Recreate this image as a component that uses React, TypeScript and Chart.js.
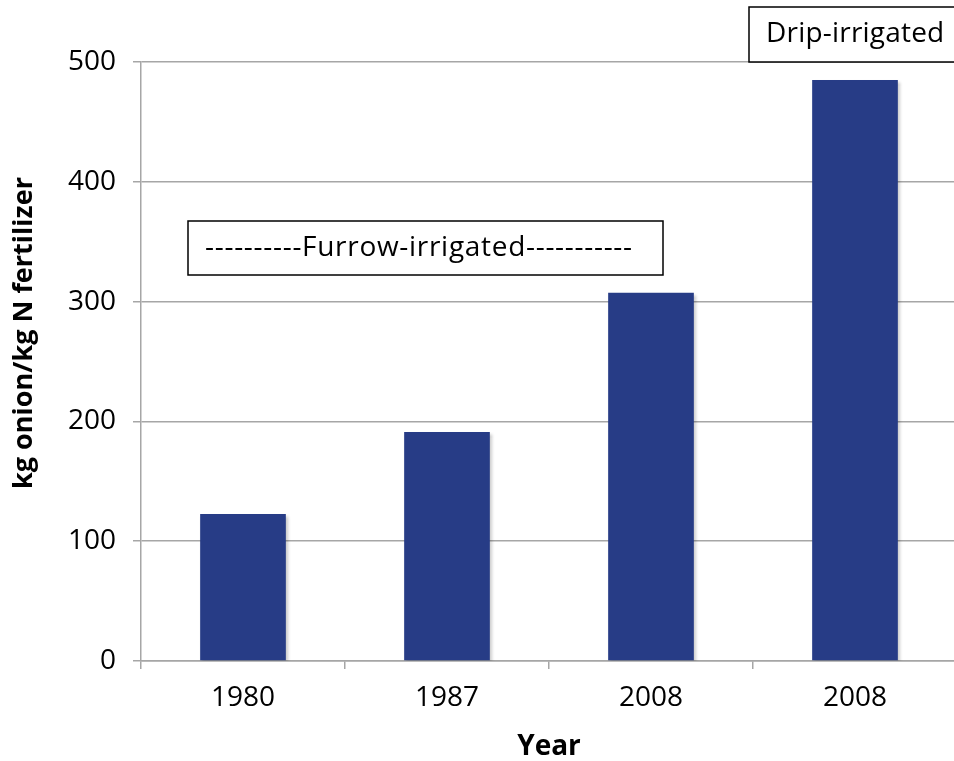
import React, { useEffect, useRef } from "react";
import { Chart, registerables } from "chart.js";

Chart.register(...registerables);

const categories = ["1980", "1987", "2008", "2008"];
const values = [122.7, 191.2, 307.4, 485];
const yTicks = [0, 100, 200, 300, 400, 500];
const yTitle = "kg onion/kg N fertilizer";
const xTitle = "Year";
const furrowLabel = "----------Furrow-irrigated-----------";
const dripLabel = "Drip-irrigated";

const FONT = "'Open Sans', 'Liberation Sans', sans-serif";
const GRID = "#a6a6a6";
const BAR = "#273c86";

const annotationPlugin = {
  id: "annots",
  beforeDatasetsDraw(chart: any) {
    const ctx = chart.ctx;
    ctx.save();
    ctx.shadowColor = "rgba(0,0,0,0.22)";
    ctx.shadowOffsetX = 2;
    ctx.shadowOffsetY = 2;
    ctx.shadowBlur = 3;
  },
  afterDatasetsDraw(chart: any) {
    chart.ctx.restore();
  },
  afterDraw(chart: any) {
    const { ctx, chartArea } = chart;
    const L = chartArea.left;
    const T = chartArea.top;
    ctx.save();
    // y axis title
    ctx.font = `bold 27px ${FONT}`;
    ctx.fillStyle = "#000";
    ctx.textAlign = "center";
    ctx.textBaseline = "middle";
    ctx.translate(24, 333);
    ctx.rotate(-Math.PI / 2);
    ctx.fillText(yTitle, 0, 0);
    ctx.restore();

    ctx.save();
    ctx.lineWidth = 1.5;
    ctx.strokeStyle = "#000";
    ctx.fillStyle = "#fff";
    // furrow box
    const fx = L + 47, fy = T + 159, fw = 475, fh = 54;
    ctx.fillRect(fx, fy, fw, fh);
    ctx.strokeRect(fx, fy, fw, fh);
    // drip box
    const dx = L + 608, dy = T - 55, dw = 210, dh = 55;
    ctx.fillRect(dx, dy, dw, dh);
    ctx.strokeRect(dx, dy, dw, dh);
    ctx.fillStyle = "#000";
    ctx.font = `28px ${FONT}`;
    ctx.textBaseline = "middle";
    ctx.textAlign = "left";
    (ctx as any).letterSpacing = "0.7px";
    ctx.fillText(furrowLabel, fx + 17, fy + fh / 2);
    (ctx as any).letterSpacing = "0.2px";
    ctx.fillText(dripLabel, dx + 17, dy + dh / 2);
    ctx.restore();
  },
};

export default function App() {
  const ref = useRef<HTMLCanvasElement>(null);
  useEffect(() => {
    if (!ref.current) return;
    const chart = new Chart(ref.current, {
      type: "bar",
      data: {
        labels: categories,
        datasets: [
          {
            data: values,
            backgroundColor: BAR,
            borderWidth: 0,
            barPercentage: 0.42,
            categoryPercentage: 1,
          },
        ],
      },
      options: {
        animation: false,
        responsive: false,
        events: [],
        layout: { padding: { left: 0, top: 62, right: 3, bottom: 0 } },
        plugins: { legend: { display: false }, tooltip: { enabled: false } },
        scales: {
          x: {
            offset: true,
            grid: {
              drawOnChartArea: false,
              offset: true,
              tickLength: 8,
              color: GRID,
              lineWidth: 1.5,
            },
            border: { display: true, color: GRID, width: 1.5 },
            ticks: {
              color: "#000",
              font: { family: FONT, size: 28 },
              padding: 12,
              maxRotation: 0,
              autoSkip: false,
            },
            title: {
              display: true,
              text: xTitle,
              color: "#000",
              font: { family: FONT, size: 28, weight: "bold", lineHeight: 1.0 },
              padding: { top: 0, bottom: 0 },
            },
            afterFit(scale: any) {
              scale.height = 100;
            },
          },
          y: {
            min: 0,
            max: 500,
            afterBuildTicks(scale: any) {
              scale.ticks = yTicks.map((v) => ({ value: v }));
            },
            grid: {
              color: GRID,
              lineWidth: 1.5,
              tickLength: 8,
            },
            border: { display: true, color: GRID, width: 1.5 },
            ticks: {
              color: "#000",
              font: { family: FONT, size: 28 },
              padding: 17,
            },
            afterFit(scale: any) {
              scale.width = 141;
            },
          },
        },
      },
      plugins: [annotationPlugin],
    } as any);
    return () => chart.destroy();
  }, []);
  return (
    <div
      style={{
        position: "absolute",
        left: 0,
        top: 0,
        width: 954,
        height: 761,
        overflow: "hidden",
        background: "#fff",
      }}
    >
      <canvas ref={ref} width={960} height={761} style={{ display: "block" }} />
    </div>
  );
}
